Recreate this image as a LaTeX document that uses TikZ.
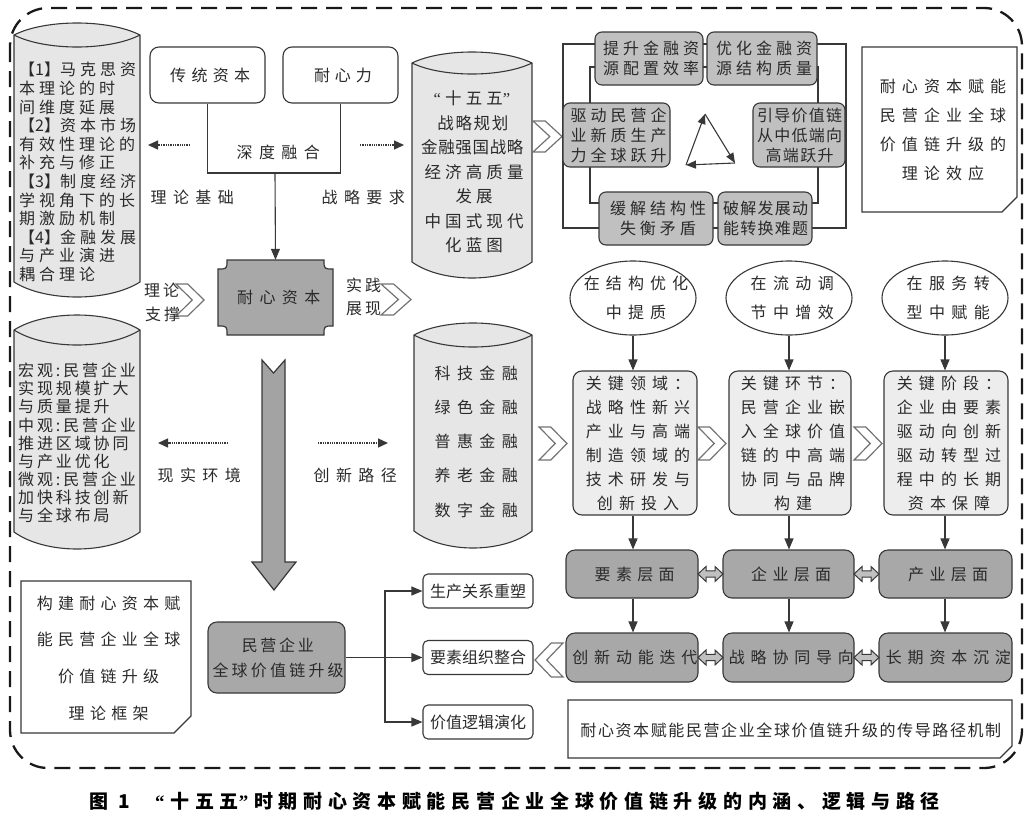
\documentclass[tikz,border=0pt]{standalone}
\usepackage{fontspec}
\setmainfont{Noto Sans CJK SC}
\newfontfamily\latn{Liberation Serif}
\usetikzlibrary{arrows.meta,shapes.geometric}
\definecolor{dkg}{HTML}{A8A8A8}
\definecolor{cyg}{HTML}{C0C0C0}
\definecolor{ltg}{HTML}{E6E6E6}
\definecolor{kbg}{HTML}{EDEDED}
\definecolor{txt}{HTML}{2A2A2A}
\definecolor{edge}{HTML}{383838}
\definecolor{bar}{HTML}{A3A3A3}
\newcommand\myFS[2]{\fontsize{#1}{#2}\selectfont}
\newcommand\myLS[1]{\addfontfeature{LetterSpace=#1}}
\newcommand\mySP[2]{\mbox{\addfontfeature{LetterSpace=#1}\kern\dimexpr#1\fontdimen6\font/100\relax#2}}
\newcommand\mycyl[6]{%
 \path[cylst] (#1,#3) .. controls ({#1+0.25*(#2-#1)},{#3-1.3333*#4}) and ({#2-0.25*(#2-#1)},{#3-1.3333*#4}) .. (#2,#3) -- (#2,#5) .. controls ({#2-0.25*(#2-#1)},{#5+1.3333*#6}) and ({#1+0.25*(#2-#1)},{#5+1.3333*#6}) .. (#1,#5) -- cycle;
 \draw[cyledge] (#1,#3) .. controls ({#1+0.25*(#2-#1)},{#3+1.3333*#4}) and ({#2-0.25*(#2-#1)},{#3+1.3333*#4}) .. (#2,#3);}
\newcommand\mychev[4]{%
 \draw[chevst] (#1,#2) -- ({#1+0.42*(#3-#1)},#2) -- (#3,{0.5*(#2+#4)}) -- ({#1+0.42*(#3-#1)},#4) -- (#1,#4) -- ({#3-0.42*(#3-#1)},{0.5*(#2+#4)}) -- cycle;}
\newcommand\mydbl[3]{%
 \draw[dblst] (#1,#3) -- ({#1+8},{#3-7.5}) -- ({#1+8},{#3-3.2}) -- ({#2-8},{#3-3.2}) -- ({#2-8},{#3-7.5}) -- (#2,#3) -- ({#2-8},{#3+7.5}) -- ({#2-8},{#3+3.2}) -- ({#1+8},{#3+3.2}) -- ({#1+8},{#3+7.5}) -- cycle;}
\newcommand\mysnip[5]{%
 \draw[snipst] (#1,#2) -- (#3,#2) -- (#3,{#4-#5}) -- ({#3-#5},#4) -- (#1,#4) -- cycle;}
\tikzset{
 ln/.style={draw=edge, line width=1.1pt},
 tri/.style={-{Triangle[length=11pt,width=9pt]}},
 dotar/.style={draw=edge, line width=1.3pt, densely dotted, -{Triangle[length=10pt,width=9pt]}},
 cylst/.style={fill=ltg, draw=edge, line width=1.1pt},
 cyledge/.style={draw=edge, line width=1.1pt},
 chevst/.style={fill=white, draw=black!55, line width=1.2pt, line join=miter},
 dblst/.style={fill=cyg, draw=edge, line width=1pt},
 snipst/.style={fill=white, draw=edge, line width=1.2pt},
 plq/.style={fill=dkg, draw=edge, line width=1.2pt},
 bigar/.style={fill=bar, draw=edge, line width=1.2pt},
 border/.style={draw=black!90, line width=2.3pt, dash pattern=on 16pt off 9pt, rounded corners=38pt},
 lbl/.style={inner sep=0pt, text=txt, font={\myFS{16}{19}}},
 rb/.style={lbl, rectangle, rounded corners=9pt, draw=edge, line width=1.1pt, fill=white},
 cb/.style={lbl, rectangle, rounded corners=7pt, draw=edge, line width=1.1pt, fill=cyg, align=center, font={\myFS{16}{20}}},
 ell/.style={inner sep=0pt, ellipse, draw=edge, line width=1.1pt, fill=white, minimum width=126pt, minimum height=74pt},
 ellt/.style={lbl, align=center, font={\myFS{16}{29}}},
 kb/.style={lbl, rectangle, rounded corners=9pt, draw=edge, line width=1.1pt, fill=kbg, align=center, minimum height=144pt, font={\myFS{16}{24}}},
 lb/.style={lbl, rectangle, rounded corners=9pt, draw=edge, line width=1.1pt, fill=dkg, align=center},
 sb/.style={lbl, rectangle, rounded corners=5pt, draw=edge, line width=1.1pt, fill=white, minimum width=110pt, minimum height=34pt},
}
\begin{document}
\begin{tikzpicture}[x=1pt,y=-1pt]
\useasboundingbox (0,0) rectangle (1034,820);
\draw[border] (10,8) rectangle (1022,768);

% ---------- left column cylinders
\mycyl{14}{140}{35}{12}{282}{15}
\node[lbl, anchor=west, align=left, font={\myFS{16}{18.6}\myLS{25}}] (thy) at (19,172) {{\myLS{0}【1】}马克思资\\本理论的时\\间维度延展\\{\myLS{0}【2】}资本市场\\有效性理论的\\补充与修正\\{\myLS{0}【3】}制度经济\\学视角下的长\\期激励机制\\{\myLS{0}【4】}金融发展\\与产业演进\\耦合理论};
\mycyl{14}{140}{330}{15}{532}{17}
\node[lbl, anchor=west, align=left, font={\myFS{16}{18.1}\myLS{18}}] (env) at (18,443) {宏观:民营企业\\实现规模扩大\\与质量提升\\中观:民营企业\\推进区域协同\\与产业优化\\微观:民营企业\\加快科技创新\\与全球布局};

% ---------- top middle
\node[rb, minimum width=115pt, minimum height=56pt] (ct) at (207.5,75) {\mySP{33}{传统资本}};
\node[rb, minimum width=115pt, minimum height=56pt] (nx) at (340.5,75) {\mySP{31}{耐心力}};
\coordinate (fuse) at (275,173);
\draw[ln] (ct.south) |- (fuse) -| (nx.south);
\node[lbl] (sdrh) at (275,152) {\mySP{40}{深度融合}};

\draw[plq] (227,260) -- (324,260) .. controls (324,269) .. (333,269) -- (333,326) .. controls (324,326) .. (324,335) -- (227,335) .. controls (227,326) .. (218,326) -- (218,269) .. controls (227,269) .. (227,260) -- cycle;
\node[lbl, minimum width=115pt, minimum height=75pt] (nxzb) at (275.5,297.5) {\mySP{40}{耐心资本}};
\draw[ln, tri] (fuse) -- (nxzb.north);

\coordinate (a1s) at (190,145); \coordinate (a1e) at (148,145);
\coordinate (a2s) at (360,145); \coordinate (a2e) at (404,145);
\coordinate (a3s) at (228,443); \coordinate (a3e) at (158,443);
\coordinate (a4s) at (318,443); \coordinate (a4e) at (388,443);
\draw[dotar] (a1s) -- (a1e);
\draw[dotar] (a2s) -- (a2e);
\draw[dotar] (a3s) -- (a3e);
\draw[dotar] (a4s) -- (a4e);
\node[lbl] (llj) at (189,197) {\mySP{40}{理论基础}};
\node[lbl] (lzl) at (360,197) {\mySP{40}{战略要求}};
\node[lbl] (lxs) at (196,475) {\mySP{40}{现实环境}};
\node[lbl] (lcx) at (352,475) {\mySP{40}{创新路径}};

\mychev{176}{284}{204}{316}
\node[lbl] (llz1) at (160,290) {\mySP{20}{理论}};
\node[lbl] (llz2) at (161,314) {\mySP{20}{支撑}};
\mychev{381}{284}{411}{315}
\node[lbl] (lsj1) at (362,285) {\mySP{20}{实践}};
\node[lbl] (lsj2) at (362,309) {\mySP{20}{展现}};

% ---------- strategy cylinder
\mycyl{412}{532}{63}{11}{262}{16}
\node[lbl, align=center, font={\myFS{16.5}{24.5}}] (sws) at (472,172) {\mbox{{\latn “}\mySP{25}{十五五}{\latn ”}}\\\mySP{10}{战略规划}\\\mySP{4}{金融强国战略}\\\mySP{25}{经济高质量}\\\mySP{25}{发展}\\\mySP{25}{中国式现代}\\\mySP{25}{化蓝图}};
\mychev{533}{121}{562}{152}

% ---------- finance cylinder
\mycyl{414}{532}{335}{12}{531}{17}
\node[lbl, align=center, font={\myFS{16}{34.25}}] (fin) at (473,441.5) {\mySP{40}{科技金融}\\\mySP{40}{绿色金融}\\\mySP{40}{普惠金融}\\\mySP{40}{养老金融}\\\mySP{40}{数字金融}};

% ---------- cycle
\draw[ln] (563,44) rectangle (846,228);
\draw[ln] (590,67) rectangle (818,203);
\node[cb, minimum width=108pt, minimum height=53pt] (p1) at (649,58.5) {\mySP{25}{提升金融资}\\\mySP{25}{源配置效率}};
\node[cb, minimum width=110pt, minimum height=53pt] (p2) at (762,58.5) {\mySP{25}{优化金融资}\\\mySP{25}{源结构质量}};
\node[cb, minimum width=107pt, minimum height=64pt] (p3) at (616.5,135) {\mySP{25}{驱动民营企}\\\mySP{25}{业新质生产}\\\mySP{25}{力全球跃升}};
\node[cb, minimum width=92pt, minimum height=64pt] (p4) at (799,135) {\mySP{8}{引导价值链}\\\mySP{8}{从中低端向}\\\mySP{8}{高端跃升}};
\node[cb, minimum width=114pt, minimum height=53pt] (p5) at (656,218.5) {\mySP{25}{缓解结构性}\\\mySP{25}{失衡矛盾}};
\node[cb, minimum width=94pt, minimum height=53pt] (p6) at (765,218.5) {\mySP{8}{破解发展动}\\\mySP{8}{能转换难题}};
\coordinate (t1) at (705,114);
\coordinate (t2) at (735,163);
\coordinate (t3) at (686,165);
\draw[ln, -{Triangle[length=10pt,width=8pt]}] (t1) -- (t2);
\draw[ln, -{Triangle[length=10pt,width=8pt]}] (t2) -- (t3);
\draw[ln, -{Triangle[length=10pt,width=8pt]}] (t3) -- (t1);

% ---------- theory effect box
\mysnip{862}{47}{1017}{212}{15}
\node[lbl, align=center, font={\myFS{16}{28.7}}] (te) at (940,130) {\mySP{38}{耐心资本赋能}\\\mySP{38}{民营企业全球}\\\mySP{38}{价值链升级的}\\\mySP{38}{理论效应}};

% ---------- ellipses
\node[ell] (e1) at (633,298) {};
\node[ell] (e2) at (789,298) {};
\node[ell] (e3) at (945,298) {};
\node[ellt] (e1t) at (e1.center) {\mySP{38}{在结构优化}\\\mySP{38}{中提质}};
\node[ellt] (e2t) at (e2.center) {\mySP{40}{在流动调}\\\mySP{40}{节中增效}};
\node[ellt] (e3t) at (e3.center) {\mySP{40}{在服务转}\\\mySP{40}{型中赋能}};

% ---------- key boxes
\node[kb, minimum width=124pt] (b1) at (635,443) {\mySP{38}{关键领域：}\\\mySP{38}{战略性新兴}\\\mySP{38}{产业与高端}\\\mySP{38}{制造领域的}\\\mySP{38}{技术研发与}\\\mySP{38}{创新投入}};
\node[kb, minimum width=122pt] (b2) at (790,443) {\mySP{38}{关键环节：}\\\mySP{38}{民营企业嵌}\\\mySP{38}{入全球价值}\\\mySP{38}{链的中高端}\\\mySP{38}{协同与品牌}\\\mySP{38}{构建}};
\node[kb, minimum width=124pt] (b3) at (946,443) {\mySP{38}{关键阶段：}\\\mySP{38}{企业由要素}\\\mySP{38}{驱动向创新}\\\mySP{38}{驱动转型过}\\\mySP{38}{程中的长期}\\\mySP{38}{资本保障}};
\draw[ln, tri] (e1.south) -- (e1.south |- b1.north);
\draw[ln, tri] (e2.south) -- (e2.south |- b2.north);
\draw[ln, tri] (e3.south) -- (e3.south |- b3.north);
\mychev{539}{427}{567}{460}
\mychev{698}{427}{726}{460}
\mychev{854}{427}{882}{460}

% ---------- layer boxes
\node[lb, minimum width=132pt, minimum height=48pt] (l1) at (632,574) {\mySP{33}{要素层面}};
\node[lb, minimum width=131pt, minimum height=48pt] (l2) at (788.5,574) {\mySP{33}{企业层面}};
\node[lb, minimum width=133pt, minimum height=48pt] (l3) at (945.5,574) {\mySP{33}{产业层面}};
\node[lb, minimum width=132pt, minimum height=49pt] (m1) at (632,657.5) {\mySP{36}{创新动能迭代}};
\node[lb, minimum width=131pt, minimum height=49pt] (m2) at (788.5,657.5) {\mySP{36}{战略协同导向}};
\node[lb, minimum width=133pt, minimum height=49pt] (m3) at (945.5,657.5) {\mySP{36}{长期资本沉淀}};
\draw[ln, tri] (b1.south -| e1.south) -- (l1.north -| e1.south);
\draw[ln, tri] (b2.south -| e2.south) -- (l2.north -| e2.south);
\draw[ln, tri] (b3.south -| e3.south) -- (l3.north -| e3.south);
\draw[ln, tri] (l1.south -| e1.south) -- (m1.north -| e1.south);
\draw[ln, tri] (l2.south -| e2.south) -- (m2.north -| e2.south);
\draw[ln, tri] (l3.south -| e3.south) -- (m3.north -| e3.south);
\mydbl{698}{723}{574}
\mydbl{854}{879}{574}
\mydbl{698}{723}{657.5}
\mydbl{854}{879}{657.5}
\mychev{563}{643}{535}{677}

\mysnip{568}{700}{1012}{758}{12}
\node[lbl] (mech) at (790,730) {\mySP{10}{耐心资本赋能民营企业全球价值链升级的传导路径机制}};

% ---------- big arrow
\draw[bigar] (262,360) -- (273.5,373) -- (285,360) -- (285,562) -- (296,562) -- (274,590) -- (252,562) -- (262,562) -- cycle;

% ---------- bottom left
\mysnip{21}{581}{191}{733}{17}
\node[lbl, align=center, font={\myFS{16}{36.7}}] (frm) at (106,658) {\mySP{33}{构建耐心资本赋}\\\mySP{33}{能民营企业全球}\\\mySP{33}{价值链升级}\\\mySP{33}{理论框架}};

\node[lb, minimum width=137pt, minimum height=71pt, font={\myFS{16}{25}}] (mb) at (276.5,657.5) {\mySP{17}{民营企业}\\\mySP{20}{全球价值链升级}};
\node[sb] (s1) at (478,591) {生产关系重塑};
\node[sb] (s2) at (478,657.5) {要素组织整合};
\node[sb] (s3) at (478,722) {价值逻辑演化};
\coordinate (tk) at (385,657.5);
\draw[ln] (mb.east) -- (tk);
\draw[ln, tri] (tk) |- (s1.west);
\draw[ln, tri] (tk) -- (s2.west);
\draw[ln, tri] (tk) |- (s3.west);

% ---------- caption
\node[lbl, text=black, font={\myFS{19}{22}\bfseries}] (cap) at (512,801) {\mbox{\mySP{30}{图\ 1\ \ }{\latn\bfseries\ “}\mySP{30}{十五五}{\latn\bfseries ”}\mySP{30}{时期耐心资本赋能民营企业全球价值链升级的内涵、逻辑与路径}}};
\end{tikzpicture}
\end{document}
